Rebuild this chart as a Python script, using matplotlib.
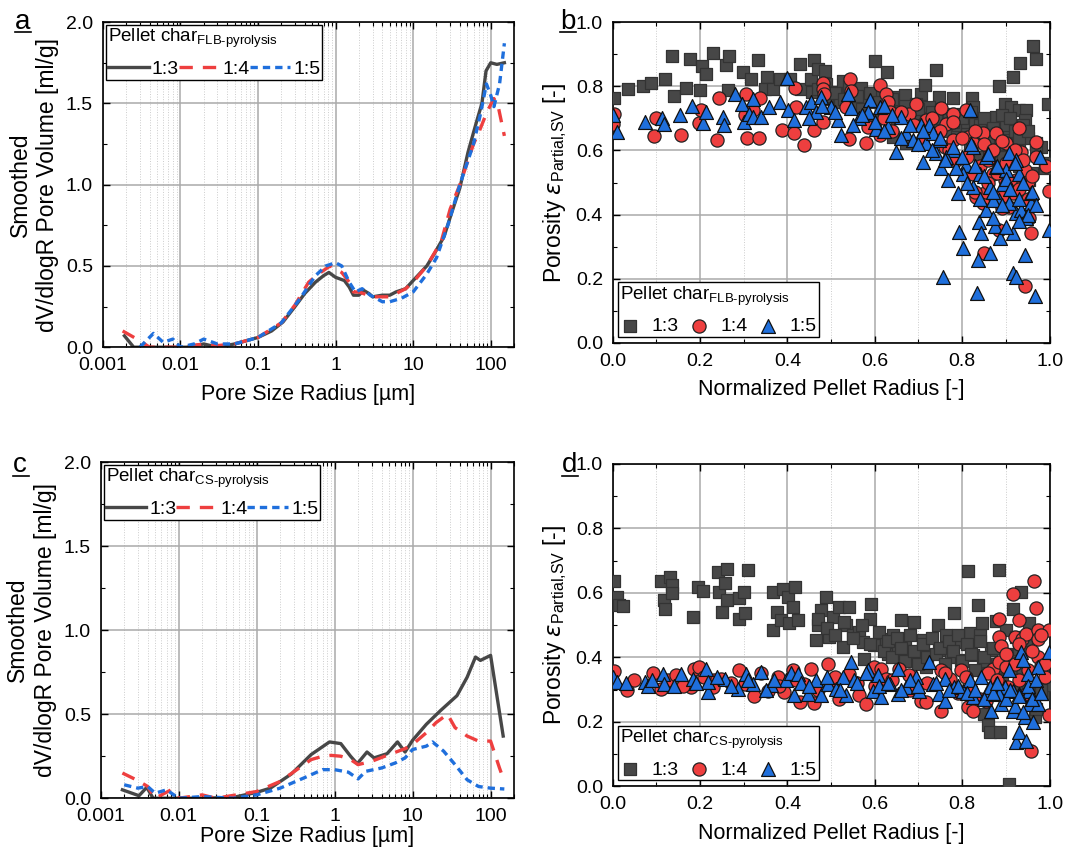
import matplotlib
matplotlib.use('Agg')
import matplotlib.pyplot as plt
import matplotlib.ticker as mticker
from matplotlib.lines import Line2D
import numpy as np

plt.rcParams['font.family'] = ['Liberation Sans', 'DejaVu Sans']
plt.rcParams['mathtext.fontset'] = 'custom'
plt.rcParams['mathtext.rm'] = 'Liberation Sans'
plt.rcParams['mathtext.it'] = 'DejaVu Sans:italic'
plt.rcParams['font.size'] = 13

C_GRAY = '#474747'
C_RED = '#ee3f3f'
C_BLUE = '#1f6fdc'

ratios = ['1:3', '1:4', '1:5']

# ---------- panel a: pore size distribution, FLB pyrolysis ----------
a_x13 = [0.0019, 0.0025, 0.004, 0.008, 0.012, 0.02, 0.03, 0.05, 0.1, 0.15, 0.21, 0.3, 0.4, 0.55, 0.7, 0.82, 1.0,
         1.3, 1.5, 1.7, 2.0, 2.3, 2.7, 3.0, 4.0, 5.0, 6.0, 8.0, 10, 15, 19, 25, 31, 40, 51, 65, 77, 87, 100, 120, 150]
a_y13 = [0.07, 0.0, 0.0, 0.0, 0.0, 0.02, 0.0, 0.02, 0.06, 0.1, 0.155, 0.25, 0.33, 0.40, 0.44, 0.46, 0.43,
         0.41, 0.37, 0.32, 0.32, 0.35, 0.33, 0.31, 0.32, 0.32, 0.34, 0.36, 0.41, 0.50, 0.58, 0.68, 0.82, 0.98, 1.2, 1.38, 1.5, 1.70, 1.75, 1.74, 1.75]
a_x14 = [0.0018, 0.003, 0.004, 0.006, 0.01, 0.02, 0.03, 0.05, 0.1, 0.2, 0.3, 0.45, 0.6, 0.85, 1.2, 1.5, 1.7, 2.0,
         3.0, 5.0, 8.0, 10, 15, 23, 30, 40, 60, 70, 90, 110, 125, 150]
a_y14 = [0.10, 0.04, 0.0, 0.0, 0.0, 0.02, 0.01, 0.02, 0.06, 0.15, 0.26, 0.40, 0.45, 0.50, 0.46, 0.40, 0.34, 0.34,
         0.31, 0.31, 0.36, 0.40, 0.50, 0.65, 0.85, 1.0, 1.25, 1.32, 1.45, 1.53, 1.48, 1.30]
a_x15 = [0.003, 0.0045, 0.006, 0.008, 0.01, 0.015, 0.02, 0.03, 0.05, 0.1, 0.2, 0.35, 0.55, 0.75, 1.0, 1.2, 1.5,
         1.8, 2.2, 2.8, 4.0, 5.0, 7.0, 10, 15, 20, 28, 40, 60, 75, 88, 100, 110, 130, 150]
a_y15 = [0.0, 0.085, 0.03, 0.05, 0.0, 0.02, 0.05, 0.02, 0.02, 0.06, 0.15, 0.30, 0.44, 0.50, 0.52, 0.50, 0.40,
         0.34, 0.36, 0.32, 0.28, 0.28, 0.30, 0.34, 0.45, 0.55, 0.75, 1.0, 1.25, 1.45, 1.62, 1.55, 1.48, 1.62, 1.87]

# ---------- panel c: pore size distribution, CS pyrolysis ----------
c_x13 = [0.0019, 0.0031, 0.0039, 0.0047, 0.01, 0.02, 0.05, 0.1, 0.15, 0.28, 0.5, 0.86, 1.2, 1.6, 1.95, 2.6, 3.2,
         4.7, 6.4, 8.0, 10, 15, 22.6, 37, 50, 64, 74, 100, 145]
c_y13 = [0.05, 0.015, 0.065, 0.0, 0.0, 0.0, 0.005, 0.035, 0.06, 0.145, 0.26, 0.335, 0.325, 0.25, 0.205, 0.275, 0.24,
         0.265, 0.335, 0.275, 0.345, 0.44, 0.52, 0.61, 0.72, 0.84, 0.82, 0.85, 0.37]
c_x14 = [0.0019, 0.003, 0.004, 0.005, 0.008, 0.01, 0.02, 0.03, 0.1, 0.2, 0.5, 0.7, 0.9, 1.2, 1.6, 2.0, 3.0, 5.0,
         8.0, 10, 15, 20, 28, 35, 50, 70, 100, 130, 150]
c_y14 = [0.15, 0.105, 0.07, 0.0, 0.05, 0.0, 0.02, 0.0, 0.04, 0.1, 0.23, 0.25, 0.255, 0.25, 0.23, 0.2, 0.22, 0.26,
         0.295, 0.32, 0.39, 0.45, 0.5, 0.42, 0.37, 0.34, 0.34, 0.18, 0.1]
c_x15 = [0.002, 0.003, 0.004, 0.005, 0.007, 0.01, 0.02, 0.05, 0.1, 0.2, 0.4, 0.7, 1.0, 1.5, 2.0, 2.5, 4.0, 6.0,
         8.0, 10, 15, 18, 25, 35, 50, 70, 100, 150]
c_y15 = [0.08, 0.06, 0.07, 0.03, 0.05, 0.0, 0.01, 0.0, 0.02, 0.06, 0.12, 0.17, 0.17, 0.155, 0.115, 0.16, 0.18, 0.21,
         0.24, 0.29, 0.31, 0.335, 0.28, 0.2, 0.11, 0.07, 0.06, 0.055]

# ---------- panel b: local porosity, FLB pyrolysis ----------
b_x13 = [0.004, 0.036, 0.069, 0.088, 0.12, 0.14, 0.135, 0.169, 0.177, 0.204, 0.201, 0.214, 0.229, 0.26, 0.266, 0.265,
         0.298, 0.316, 0.332, 0.354, 0.348, 0.366, 0.383, 0.406, 0.429, 0.431, 0.453, 0.46, 0.471, 0.486, 0.456, 0.489,
         0.511, 0.527, 0.542, 0.569, 0.601, 0.627, 0.565, 0.588, 0.611, 0.63, 0.649, 0.67, 0.706, 0.714, 0.74, 0.748,
         0.725, 0.779, 0.782, 0.823, 0.824, 0.771, 0.798, 0.832, 0.859, 0.885, 0.897, 0.916, 0.933, 0.962, 0.97, 0.996,
         0.912, 0.929, 0.947, 0.943, 0.901, 0.878, 0.847, 0.809, 0.782, 0.863, 0.908, 0.931, 0.97, 0.981, 0.989, 0.954,
         0.916, 0.885, 0.641, 0.672, 0.6, 0.695, 0.733, 0.756, 0.817, 0.84, 0.874, 0.893,
         0.5, 0.52, 0.55, 0.58, 0.62, 0.66, 0.68, 0.72, 0.75, 0.79, 0.81, 0.83, 0.86, 0.88, 0.9, 0.92, 0.95, 0.97,
         0.99, 0.93, 0.96,
         0.47, 0.49, 0.51, 0.53, 0.54, 0.56, 0.57, 0.59, 0.61, 0.63, 0.64, 0.65, 0.67, 0.69, 0.70, 0.71, 0.73, 0.74,
         0.76, 0.77, 0.78, 0.80, 0.81, 0.82, 0.84, 0.85, 0.86, 0.87, 0.89, 0.90, 0.91, 0.93, 0.94, 0.95]
b_y13 = [0.762, 0.793, 0.80, 0.81, 0.823, 0.769, 0.894, 0.795, 0.885, 0.864, 0.788, 0.839, 0.905, 0.865, 0.893, 0.788,
         0.845, 0.823, 0.881, 0.83, 0.793, 0.79, 0.823, 0.823, 0.868, 0.793, 0.823, 0.881, 0.855, 0.847, 0.782, 0.808,
         0.782, 0.816, 0.782, 0.795, 0.878, 0.845, 0.736, 0.756, 0.772, 0.762, 0.767, 0.774, 0.777, 0.803, 0.85, 0.767,
         0.736, 0.762, 0.715, 0.762, 0.736, 0.663, 0.684, 0.653, 0.694, 0.80, 0.746, 0.829, 0.873, 0.927, 0.886, 0.746,
         0.734, 0.727, 0.725, 0.694, 0.663, 0.705, 0.674, 0.715, 0.653, 0.622, 0.632, 0.611, 0.622, 0.611, 0.544, 0.508,
         0.58, 0.606, 0.642, 0.622, 0.694, 0.746, 0.71, 0.674, 0.601, 0.58, 0.57, 0.58,
         0.76, 0.75, 0.74, 0.75, 0.74, 0.73, 0.72, 0.70, 0.69, 0.68, 0.67, 0.69, 0.66, 0.65, 0.68, 0.66, 0.64, 0.60,
         0.56, 0.55, 0.53,
         0.79, 0.77, 0.78, 0.76, 0.80, 0.77, 0.73, 0.78, 0.75, 0.72, 0.76, 0.70, 0.74, 0.71, 0.73, 0.68, 0.72, 0.70,
         0.66, 0.71, 0.69, 0.70, 0.65, 0.72, 0.68, 0.70, 0.63, 0.67, 0.71, 0.62, 0.70, 0.64, 0.68, 0.66]
b_x14 = [0.004, 0.002, 0.094, 0.099, 0.156, 0.197, 0.202, 0.238, 0.244, 0.305, 0.308, 0.302, 0.336, 0.337, 0.321,
         0.387, 0.414, 0.417, 0.437, 0.42, 0.46, 0.481, 0.481, 0.482, 0.483, 0.544, 0.546, 0.542, 0.58, 0.534, 0.584,
         0.611, 0.626, 0.63, 0.634, 0.611, 0.679, 0.695, 0.718, 0.752, 0.763, 0.779, 0.76, 0.809, 0.813, 0.824, 0.847,
         0.863, 0.878, 0.901, 0.931, 0.935, 0.97, 0.991, 0.998, 0.958, 0.952, 0.943, 0.851, 0.847, 0.885, 0.908, 0.916,
         0.897, 0.87, 0.924, 0.943, 0.824, 0.832, 0.855, 0.786, 0.779, 0.89, 0.931, 0.95,
         0.62, 0.64, 0.66, 0.69, 0.71, 0.73, 0.75, 0.77, 0.78, 0.80, 0.81, 0.83, 0.84, 0.85, 0.86, 0.87, 0.88, 0.89,
         0.90, 0.91, 0.92, 0.93, 0.94, 0.95, 0.96, 0.97, 0.94, 0.89, 0.86, 0.83]
b_y14 = [0.713, 0.682, 0.645, 0.70, 0.649, 0.686, 0.725, 0.634, 0.762, 0.775, 0.64, 0.71, 0.639, 0.762, 0.725,
         0.663, 0.655, 0.796, 0.617, 0.736, 0.663, 0.689, 0.81, 0.793, 0.775, 0.823, 0.786, 0.637, 0.622, 0.736, 0.674,
         0.803, 0.775, 0.752, 0.72, 0.648, 0.715, 0.744, 0.694, 0.731, 0.684, 0.715, 0.611, 0.725, 0.643, 0.622, 0.653,
         0.591, 0.653, 0.622, 0.671, 0.596, 0.627, 0.551, 0.475, 0.342, 0.389, 0.176, 0.28, 0.435, 0.352, 0.425, 0.466,
         0.508, 0.528, 0.508, 0.539, 0.528, 0.456, 0.472, 0.57, 0.632, 0.456, 0.487, 0.503,
         0.70, 0.66, 0.72, 0.68, 0.64, 0.70, 0.66, 0.60, 0.69, 0.64, 0.58, 0.66, 0.55, 0.62, 0.57, 0.60, 0.53, 0.63,
         0.56, 0.50, 0.60, 0.48, 0.57, 0.45, 0.52, 0.58, 0.40, 0.42, 0.50, 0.47]
b_x15 = [0.002, 0.009, 0.075, 0.113, 0.118, 0.154, 0.182, 0.206, 0.214, 0.252, 0.256, 0.279, 0.295, 0.3, 0.313, 0.321,
         0.321, 0.34, 0.359, 0.382, 0.399, 0.401, 0.416, 0.443, 0.453, 0.477, 0.466, 0.5, 0.515, 0.523, 0.538, 0.546,
         0.565, 0.588, 0.584, 0.611, 0.603, 0.622, 0.63, 0.649, 0.66, 0.672, 0.687, 0.706, 0.718, 0.71, 0.725, 0.733,
         0.74, 0.752, 0.767, 0.779, 0.79, 0.792, 0.756, 0.803, 0.817, 0.824, 0.834, 0.836, 0.838, 0.844, 0.855, 0.863,
         0.874, 0.887, 0.885, 0.893, 0.908, 0.916, 0.924, 0.916, 0.924, 0.931, 0.935, 0.943, 0.947, 0.958, 0.966, 0.977,
         0.998, 0.958, 0.809, 0.84, 0.863, 0.824, 0.802, 0.855, 0.878, 0.901, 0.924, 0.908, 0.87, 0.748, 0.763, 0.786,
         0.60, 0.62, 0.64, 0.66, 0.68, 0.70, 0.71, 0.73, 0.75, 0.76, 0.78, 0.80, 0.81, 0.82, 0.83, 0.85, 0.86, 0.87,
         0.88, 0.89, 0.90, 0.91, 0.92, 0.93, 0.94, 0.95, 0.96, 0.97, 0.84, 0.87, 0.90, 0.93, 0.45, 0.48, 0.51, 0.55, 0.57]
b_y15 = [0.71, 0.658, 0.689, 0.70, 0.684, 0.71, 0.738, 0.686, 0.72, 0.705, 0.679, 0.777, 0.746, 0.689, 0.715, 0.703,
         0.759, 0.705, 0.736, 0.751, 0.827, 0.725, 0.694, 0.736, 0.751, 0.767, 0.72, 0.736, 0.694, 0.648, 0.777, 0.731,
         0.70, 0.756, 0.72, 0.736, 0.668, 0.738, 0.674, 0.596, 0.705, 0.653, 0.632, 0.679, 0.622, 0.565, 0.679, 0.653,
         0.591, 0.544, 0.508, 0.601, 0.466, 0.347, 0.207, 0.295, 0.725, 0.611, 0.155, 0.259, 0.378, 0.342, 0.415, 0.28,
         0.363, 0.326, 0.446, 0.497, 0.591, 0.218, 0.207, 0.342, 0.404, 0.528, 0.415, 0.275, 0.389, 0.435, 0.145, 0.58,
         0.352, 0.466, 0.554, 0.528, 0.487, 0.487, 0.528, 0.58, 0.549, 0.539, 0.57, 0.435, 0.446, 0.632, 0.58, 0.544,
         0.69, 0.66, 0.71, 0.64, 0.68, 0.62, 0.66, 0.60, 0.64, 0.57, 0.61, 0.58, 0.50, 0.62, 0.55, 0.52, 0.59, 0.47,
         0.55, 0.43, 0.51, 0.48, 0.56, 0.45, 0.50, 0.40, 0.47, 0.43, 0.45, 0.39, 0.36, 0.38, 0.70, 0.74, 0.72, 0.68, 0.71]

# ---------- panel d: local porosity, CS pyrolysis ----------
d_x13 = [0.004, 0.011, 0.015, 0.024, 0.111, 0.117, 0.121, 0.132, 0.135, 0.136, 0.185, 0.195, 0.206, 0.242, 0.244,
         0.25, 0.258, 0.261, 0.261, 0.289, 0.289, 0.3, 0.303, 0.309, 0.368, 0.366, 0.376, 0.385, 0.389, 0.401, 0.403,
         0.412, 0.418, 0.424, 0.466, 0.47, 0.477, 0.489, 0.496, 0.504, 0.519, 0.527, 0.534, 0.542, 0.55, 0.563, 0.573,
         0.576, 0.588, 0.592, 0.599, 0.626, 0.63, 0.641, 0.653, 0.66, 0.664, 0.668, 0.69, 0.687, 0.71, 0.718, 0.744,
         0.748, 0.763, 0.775, 0.782, 0.79, 0.798, 0.813, 0.817, 0.824, 0.836, 0.84, 0.845, 0.847, 0.851, 0.859, 0.863,
         0.866, 0.878, 0.885, 0.887, 0.897, 0.908, 0.916, 0.935, 0.931, 0.95, 0.952, 0.966, 0.985, 0.996, 0.901, 0.924,
         0.947,
         0.47, 0.49, 0.51, 0.53, 0.55, 0.57, 0.59, 0.61, 0.62, 0.63, 0.64, 0.65, 0.66, 0.67, 0.68, 0.69, 0.70, 0.71,
         0.72, 0.73, 0.74, 0.75, 0.76, 0.77, 0.78, 0.79, 0.80, 0.81, 0.82, 0.83, 0.84, 0.85, 0.86, 0.87, 0.88, 0.89,
         0.90, 0.91, 0.92, 0.93, 0.94, 0.95, 0.96, 0.97, 0.98]
d_y13 = [0.636, 0.588, 0.562, 0.56, 0.636, 0.577, 0.551, 0.649, 0.623, 0.598, 0.525, 0.619, 0.606, 0.665, 0.603,
         0.539, 0.629, 0.673, 0.577, 0.583, 0.52, 0.603, 0.536, 0.67, 0.486, 0.603, 0.541, 0.517, 0.613, 0.588, 0.507,
         0.556, 0.619, 0.515, 0.453, 0.5, 0.546, 0.588, 0.463, 0.525, 0.556, 0.432, 0.5, 0.557, 0.47, 0.48, 0.448,
         0.396, 0.52, 0.564, 0.437, 0.458, 0.411, 0.468, 0.432, 0.517, 0.391, 0.458, 0.51, 0.396, 0.453, 0.37, 0.5,
         0.422, 0.468, 0.401, 0.538, 0.448, 0.391, 0.668, 0.474, 0.406, 0.562, 0.468, 0.505, 0.38, 0.225, 0.189, 0.168,
         0.422, 0.513, 0.67, 0.168, 0.37, 0.007, 0.551, 0.603, 0.422, 0.427, 0.505, 0.215, 0.287, 0.313, 0.484, 0.463,
         0.453,
         0.52, 0.49, 0.47, 0.51, 0.46, 0.50, 0.44, 0.48, 0.42, 0.45, 0.40, 0.46, 0.43, 0.39, 0.47, 0.42, 0.38, 0.44,
         0.40, 0.46, 0.41, 0.43, 0.38, 0.45, 0.42, 0.47, 0.39, 0.44, 0.41, 0.36, 0.45, 0.40, 0.35, 0.43, 0.38, 0.33,
         0.41, 0.36, 0.39, 0.31, 0.35, 0.30, 0.27, 0.24, 0.30]
d_x14 = [0.004, 0.034, 0.092, 0.111, 0.126, 0.145, 0.179, 0.187, 0.198, 0.233, 0.229, 0.248, 0.29, 0.302, 0.324,
         0.356, 0.378, 0.393, 0.412, 0.429, 0.439, 0.454, 0.46, 0.492, 0.504, 0.519, 0.542, 0.565, 0.58, 0.599, 0.615,
         0.626, 0.656, 0.679, 0.695, 0.706, 0.718, 0.752, 0.752, 0.771, 0.798, 0.809, 0.813, 0.824, 0.855, 0.87, 0.885,
         0.885, 0.885, 0.889, 0.901, 0.916, 0.92, 0.931, 0.936, 0.947, 0.964, 0.969, 0.973, 0.973, 0.973, 0.981, 0.989,
         0.998, 0.998, 0.958, 0.931, 0.947, 0.905, 0.87,
         0.05, 0.16, 0.21, 0.27, 0.34, 0.38, 0.42, 0.47, 0.51, 0.56, 0.60, 0.64, 0.68, 0.72, 0.76, 0.79, 0.82, 0.84,
         0.86, 0.88, 0.90, 0.92, 0.93, 0.95, 0.96, 0.98, 0.99]
d_y14 = [0.358, 0.30, 0.352, 0.303, 0.329, 0.344, 0.308, 0.365, 0.37, 0.329, 0.308, 0.334, 0.362, 0.318, 0.279,
         0.297, 0.339, 0.292, 0.36, 0.261, 0.318, 0.365, 0.258, 0.38, 0.329, 0.272, 0.349, 0.282, 0.254, 0.37, 0.365,
         0.334, 0.365, 0.344, 0.318, 0.266, 0.261, 0.36, 0.235, 0.334, 0.36, 0.339, 0.246, 0.235, 0.266, 0.365, 0.386,
         0.52, 0.463, 0.434, 0.37, 0.596, 0.463, 0.515, 0.456, 0.472, 0.636, 0.553, 0.484, 0.456, 0.401, 0.372, 0.339,
         0.484, 0.22, 0.111, 0.329, 0.287, 0.308, 0.308,
         0.33, 0.31, 0.34, 0.32, 0.35, 0.31, 0.33, 0.30, 0.34, 0.32, 0.31, 0.33, 0.30, 0.32, 0.35, 0.29, 0.30, 0.27,
         0.35, 0.33, 0.41, 0.38, 0.44, 0.36, 0.42, 0.47, 0.38]
d_x15 = [0.002, 0.011, 0.073, 0.08, 0.116, 0.118, 0.156, 0.185, 0.214, 0.218, 0.218, 0.258, 0.286, 0.305, 0.321,
         0.34, 0.363, 0.397, 0.408, 0.416, 0.424, 0.447, 0.466, 0.477, 0.492, 0.511, 0.527, 0.534, 0.546, 0.553, 0.584,
         0.595, 0.607, 0.615, 0.634, 0.653, 0.653, 0.672, 0.695, 0.702, 0.725, 0.733, 0.748, 0.76, 0.76, 0.782, 0.802,
         0.817, 0.824, 0.844, 0.855, 0.866, 0.878, 0.889, 0.897, 0.908, 0.916, 0.924, 0.931, 0.935, 0.939, 0.943, 0.947,
         0.95, 0.954, 0.954, 0.962, 0.973, 0.973, 0.998, 0.931, 0.916, 0.885, 0.863,
         0.03, 0.09, 0.14, 0.19, 0.24, 0.27, 0.31, 0.35, 0.37, 0.43, 0.45, 0.49, 0.52, 0.56, 0.58, 0.61, 0.63, 0.66,
         0.68, 0.70, 0.74, 0.77, 0.79, 0.81, 0.83, 0.85, 0.87, 0.88, 0.90, 0.91, 0.92, 0.93, 0.94, 0.95, 0.96, 0.97, 0.98]
d_y15 = [0.339, 0.323, 0.323, 0.311, 0.349, 0.318, 0.349, 0.334, 0.365, 0.292, 0.323, 0.334, 0.303, 0.349, 0.318,
         0.354, 0.313, 0.329, 0.351, 0.282, 0.349, 0.287, 0.331, 0.282, 0.318, 0.303, 0.339, 0.282, 0.386, 0.329, 0.362,
         0.297, 0.344, 0.277, 0.318, 0.365, 0.287, 0.308, 0.339, 0.297, 0.386, 0.318, 0.287, 0.266, 0.334, 0.308, 0.297,
         0.329, 0.277, 0.339, 0.287, 0.235, 0.318, 0.256, 0.308, 0.36, 0.235, 0.137, 0.168, 0.417, 0.391, 0.215, 0.142,
         0.349, 0.297, 0.256, 0.199, 0.37, 0.256, 0.417, 0.287, 0.297, 0.287, 0.308,
         0.32, 0.33, 0.31, 0.32, 0.34, 0.31, 0.33, 0.30, 0.33, 0.32, 0.31, 0.34, 0.30, 0.32, 0.35, 0.31, 0.32, 0.30,
         0.33, 0.31, 0.32, 0.30, 0.31, 0.29, 0.30, 0.27, 0.29, 0.32, 0.27, 0.30, 0.25, 0.28, 0.23, 0.31, 0.27, 0.33, 0.29]

fig = plt.figure(figsize=(10.71, 8.51), dpi=100)
ax_a = fig.add_axes([0.096, 0.592, 0.384, 0.382])
ax_b = fig.add_axes([0.572, 0.597, 0.408, 0.377])
ax_c = fig.add_axes([0.094, 0.062, 0.386, 0.395])
ax_d = fig.add_axes([0.572, 0.076, 0.408, 0.379])


def style_common(ax):
    for s in ax.spines.values():
        s.set_linewidth(1.2)
    ax.tick_params(which='both', direction='in', top=True, right=True, labelsize=14)
    ax.tick_params(which='major', length=5, width=1)
    ax.tick_params(which='minor', length=3, width=0.8)
    ax.tick_params(axis='x', which='major', pad=7)
    ax.tick_params(axis='y', which='major', pad=7)
    ax.set_axisbelow(True)


def lines_panel(ax, data, sub, xpad):
    styles = [dict(color=C_GRAY, ls='-'),
              dict(color=C_RED, ls=(0, (4, 3))),
              dict(color=C_BLUE, ls=(0, (2.2, 1.5)))]
    for (xs, ys), st, lab in zip(data, styles, ratios):
        ax.plot(xs, ys, lw=2.4, label=lab, **st)
    ax.set_xscale('log')
    ax.set_xlim(0.001, 200)
    ax.set_ylim(0, 2.0)
    ax.xaxis.set_major_locator(mticker.LogLocator(base=10, numticks=10))
    ax.xaxis.set_major_formatter(mticker.FuncFormatter(lambda v, p: f'{v:g}'))
    ax.xaxis.set_minor_locator(mticker.LogLocator(base=10, subs=np.arange(2, 10), numticks=20))
    ax.xaxis.set_minor_formatter(mticker.NullFormatter())
    ax.yaxis.set_major_locator(mticker.MultipleLocator(0.5))
    ax.yaxis.set_minor_locator(mticker.MultipleLocator(0.25))
    ax.yaxis.set_major_formatter(mticker.FormatStrFormatter('%.1f'))
    ax.grid(which='major', color='#aaaaaa', lw=1.1)
    ax.grid(which='minor', axis='x', color='#cccccc', lw=0.7, ls=':')
    style_common(ax)
    ax.set_xlabel('Pore Size Radius [µm]', fontsize=15.5, labelpad=xpad)
    ax.set_ylabel('Smoothed\ndV/dlogR Pore Volume [ml/g]', fontsize=16.5, linespacing=1.25, labelpad=5)
    leg = ax.legend(title='Pellet char$_{\\mathregular{' + sub + '}}$', ncol=3, loc='upper left',
                    handlelength=2.1, handletextpad=0.15, columnspacing=0.0,
                    frameon=True, fancybox=False, edgecolor='black', framealpha=1,
                    borderaxespad=0.15, borderpad=0.1, fontsize=14, title_fontsize=13.5,
                    alignment='left')
    leg.get_frame().set_linewidth(1.0)


def scatter_panel(ax, data, sub):
    specs = [dict(marker='s', c=C_GRAY, edgecolors='#333333', s=72),
             dict(marker='o', c=C_RED, edgecolors='#222222', s=90),
             dict(marker='^', c=C_BLUE, edgecolors='#111111', s=100)]
    for (xs, ys), sp, lab in zip(data, specs, ratios):
        ax.scatter(xs, ys, linewidths=0.9, label=lab, zorder=3, **sp)
    ax.set_xlim(0, 1.0)
    ax.set_ylim(0, 1.0)
    ax.xaxis.set_major_locator(mticker.MultipleLocator(0.2))
    ax.xaxis.set_minor_locator(mticker.MultipleLocator(0.1))
    ax.yaxis.set_major_locator(mticker.MultipleLocator(0.2))
    ax.yaxis.set_minor_locator(mticker.MultipleLocator(0.1))
    ax.xaxis.set_major_formatter(mticker.FormatStrFormatter('%.1f'))
    ax.yaxis.set_major_formatter(mticker.FormatStrFormatter('%.1f'))
    ax.grid(which='major', color='#aaaaaa', lw=1.1)
    ax.grid(which='minor', axis='x', color='#cccccc', lw=0.7, ls=':')
    style_common(ax)
    ax.set_xlabel('Normalized Pellet Radius [-]', fontsize=15.5, labelpad=7)
    ax.set_ylabel('Porosity $\\varepsilon_{\\mathregular{Partial{,}SV}}$ [-]', fontsize=16.5, labelpad=5)
    leg = ax.legend(title='Pellet char$_{\\mathregular{' + sub + '}}$', ncol=3, loc='lower left',
                    handlelength=1.0, handletextpad=0.6, columnspacing=0.55, markerscale=1.0,
                    frameon=True, fancybox=False, edgecolor='black', framealpha=1,
                    borderaxespad=0.3, borderpad=0.1, fontsize=14, title_fontsize=13.5,
                    alignment='left')
    leg.get_frame().set_linewidth(1.0)
    leg.set_zorder(10)


lines_panel(ax_a, [(a_x13, a_y13), (a_x14, a_y14), (a_x15, a_y15)], 'FLB‑pyrolysis', 7)
lines_panel(ax_c, [(c_x13, c_y13), (c_x14, c_y14), (c_x15, c_y15)], 'CS‑pyrolysis', 1)
scatter_panel(ax_b, [(b_x13, b_y13), (b_x14, b_y14), (b_x15, b_y15)], 'FLB‑pyrolysis')
scatter_panel(ax_d, [(d_x13, d_y13), (d_x14, d_y14), (d_x15, d_y15)], 'CS‑pyrolysis')

# panel letters (underlined)
for lab, (px, py) in [('a', (0.014, 0.966)), ('b', (0.523, 0.966)),
                      ('c', (0.012, 0.445)), ('d', (0.525, 0.445))]:
    fig.text(px, py, lab, fontsize=20, va='baseline', ha='left')
    fig.add_artist(Line2D([px, px + 0.015], [py - 0.004, py - 0.004], color='black', lw=1.2,
                          transform=fig.transFigure))

fig.savefig('out.png', dpi=100)
